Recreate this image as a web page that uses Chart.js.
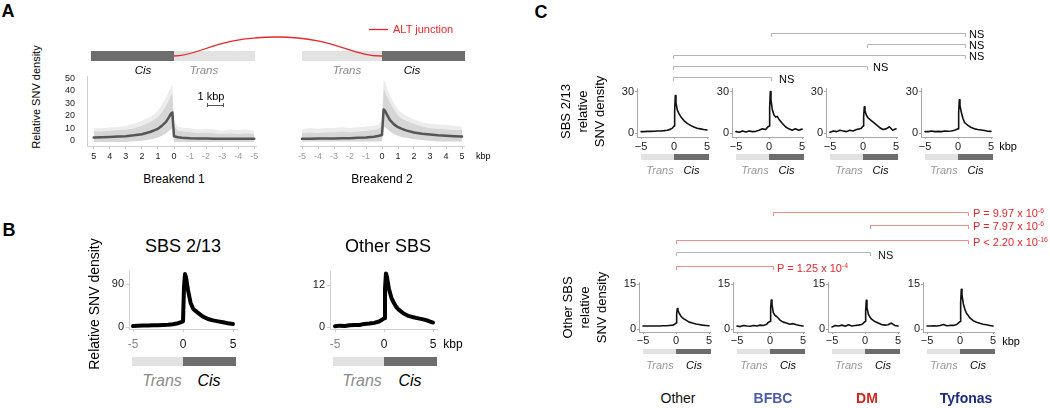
<!DOCTYPE html>
<html>
<head>
<meta charset="utf-8">
<script src="https://cdn.jsdelivr.net/npm/chart.js@4.4.1/dist/chart.umd.min.js"></script>
<style>
  body { margin: 0; width: 1050px; height: 408px; background: #fff; position: relative; overflow: hidden;
         font-family: 'Liberation Sans', Arial, sans-serif; color: #111; }
  canvas { position: absolute; }
  .t { position: absolute; white-space: nowrap; line-height: 1; }
  .r { position: absolute; }
  sup { font-size: 0.62em; vertical-align: 0.55em; line-height: 0; }
</style>
</head>
<body>
<script>
// ---- data ----
// positions relative to the breakpoint, kbp (cis side positive)
const kbp = [-5, -4.5, -4, -3.5, -3, -2.5, -2, -1.5, -1, -0.5, -0.25, 0, 0.1, 0.2, 0.3, 0.5, 0.75, 1, 1.25, 1.5, 2, 2.5, 3, 3.5, 4, 4.5, 5];

// A: breakends, mean line + cloud of individual values (dense band + sparse outliers)
const brk1Line  = [1.5, 1.5, 1.5, 1.5, 1.5, 1.6, 1.7, 1.8, 2, 2.4, 2.8, 3.5, 22.5, 21.5, 19, 15, 12, 9.5, 8.2, 7, 5.2, 4.3, 3.6, 3.3, 3, 2.8, 2.5];
const brk1Upper = [5.5, 6, 5.5, 6, 5.5, 6, 6.5, 6, 7, 7.5, 8, 12, 38, 36, 33, 28, 23, 19, 16.5, 15, 12, 10, 9, 8.5, 8, 7.5, 7.5];
const brk1Outer = [8, 9, 8.5, 9, 8, 9, 9.5, 9, 10, 10.5, 11, 16, 45, 43, 40, 35, 29, 24, 21, 19, 16, 13.5, 12, 11, 10.5, 10, 10];
const brk1Lower = [-1, -1, -1, -1, -1, -1, -1, -1, -1, -1, -1, -1, 10, 9, 8, 6, 4, 2.5, 1.5, 1, 0, -0.5, -1, -1, -1, -1, -1];
const brk2Line  = [0.8, 0.9, 1, 1, 1.1, 1.2, 1.3, 1.5, 1.8, 2.3, 2.8, 3.5, 21.5, 20.5, 18, 14, 11, 9, 7.8, 6.8, 5.3, 4.4, 3.8, 3.3, 3, 2.7, 2.4];
const brk2Upper = [5, 5.5, 5, 5.5, 5.5, 6, 5.5, 6, 6.5, 7, 7.5, 10, 36, 34, 31, 26, 21.5, 17.5, 15, 13.5, 11.5, 9.5, 8.5, 8, 7.5, 7, 7];
const brk2Outer = [7.5, 8.5, 8, 8.5, 8.5, 9, 8.5, 9, 9.5, 10, 10.5, 14, 43, 41, 37, 31, 26, 21.5, 19, 17, 14.5, 12.5, 11.5, 11, 10.5, 10, 9.5];
const brk2Lower = [-1, -1, -1, -1, -1, -1, -1, -1, -1, -1, -1, -1, 9, 9, 8, 6, 4, 3, 2, 1.5, 0.5, 0, -0.5, -1, -1, -1, -1];

// B: signatures
const sbs213   = [2, 2.5, 3, 3, 3.5, 4, 4.5, 5, 6, 8, 10, 12, 85, 112, 105, 78, 52, 39, 34, 30, 22, 17, 14, 12, 10, 8, 6.5];
const otherSbs = [0.2, 0.4, 0.3, 0.5, 0.6, 0.6, 0.9, 1, 1.2, 1.6, 2, 2.5, 11, 15.5, 14.5, 11, 8.5, 7, 5.8, 5, 3.9, 3.2, 2.8, 2.5, 2.2, 1.8, 1.3];

// C: by event type (top = SBS 2/13, bottom = other SBS)
const groups = ['Other', 'BFBC', 'DM', 'Tyfonas'];
const topSeries = [
  [1, 1, 1.2, 1.2, 1.3, 1.4, 1.5, 1.7, 2, 2.8, 3.5, 5, 16, 27, 22, 16.5, 14, 12, 10.5, 9, 7, 5.5, 4.3, 3.5, 3, 2.5, 2.2],
  [1, 0.5, 1.5, 0.8, 1.5, 1, 1.2, 2, 3, 2.5, 4, 5, 18, 30, 24, 17, 13, 11.5, 12, 10, 7, 4.5, 3, 2, 3, 2, 2.8],
  [0.5, 1.5, 1, 2, 1.5, 1, 2, 1.5, 2.5, 3, 3.5, 5, 12, 19, 16, 13, 11, 10, 9, 8, 6, 4, 2.5, 3, 4.5, 2, 3],
  [1, 1, 1.5, 1, 1.2, 1, 1.5, 1.3, 1.5, 2, 2.5, 3, 15, 24, 20, 15, 10.5, 7.5, 6.5, 5.5, 4, 3, 2.5, 2.2, 1.8, 1.3, 1.2]
];
const bottomSeries = [
  [1, 1, 1, 1, 1, 1, 1.1, 1.1, 1.2, 1.3, 1.5, 2, 5, 6.9, 6.2, 5.2, 4.3, 3.7, 3.3, 3, 2.3, 2, 1.7, 1.5, 1.3, 1.2, 1.1],
  [1, 0.8, 1.2, 1, 0.9, 1.2, 1, 1.3, 1.2, 1.6, 2.3, 2.5, 7, 9.7, 8.3, 5.5, 4.6, 4.2, 3.7, 3, 2.3, 2, 1.6, 1.8, 1.4, 1.2, 1],
  [0.7, 1.2, 1, 1.3, 0.9, 1.4, 1, 1.2, 1.3, 1.5, 2, 2.5, 6, 9.6, 7.2, 5, 4, 3.3, 2.9, 2.5, 2, 1.5, 1.3, 1.4, 2, 1.2, 1],
  [1, 1, 1.1, 1, 1.2, 1.5, 1.1, 1.2, 1.2, 1.5, 2, 2.5, 9, 13.3, 11.5, 8.5, 6.5, 5.2, 4.5, 3.7, 2.8, 2.3, 1.9, 1.6, 1.4, 1.2, 1]
];

// tick values / labels
const aXTicks = [-5, -4, -3, -2, -1, 0, 1, 2, 3, 4, 5];
const aXLabels = ['-5', '-4', '-3', '-2', '-1', '0', '1', '2', '3', '4', '5'];
const aYTicks = [0, 10, 20, 30, 40, 50];
const bXTicks = [-5, 0, 5];
const bXLabels = ['-5', '0', '5'];
const cXLabels = ['\u22125', '0', '5'];
const topPvals = ['NS', 'NS', 'NS', 'NS', 'NS'];
const botPvals = ['P = 1.25 x 10<sup>-4</sup>', 'NS', 'P &lt; 2.20 x 10<sup>-16</sup>', 'P = 7.97 x 10<sup>-6</sup>', 'P = 9.97 x 10<sup>-6</sup>'];

// ---- helpers ----
Chart.defaults.font.family = "'Liberation Sans', Arial, sans-serif";
const RED = '#e8262b';
const pts = ys => kbp.map((x, i) => ({ x: x, y: ys[i] }));

function text(str, x, y, o) {
  o = o || {};
  const d = document.createElement('div');
  d.className = 't';
  d.innerHTML = str;
  d.style.fontSize = (o.size || 11) + 'px';
  d.style.color = o.color || '#000';
  if (o.italic) d.style.fontStyle = 'italic';
  if (o.bold) d.style.fontWeight = 'bold';
  if (o.rot) {
    // fixed integer box so the rotated text lands on whole pixels
    const lines = str.split('<br>').length, w = 220, h = lines * o.lh;
    d.style.width = w + 'px'; d.style.height = h + 'px';
    d.style.lineHeight = o.lh + 'px'; d.style.textAlign = 'center';
    d.style.left = (x - w / 2) + 'px'; d.style.top = (y - h / 2) + 'px';
    d.style.transform = 'rotate(-90deg)';
  } else {
    d.style.left = x + 'px';
    d.style.top = y + 'px';
    d.style.transform = 'translate(' + (o.left ? '0' : '-50%') + ',-50%)';
  }
  document.body.appendChild(d);
}

function rect(x1, y1, x2, y2, color) {
  const d = document.createElement('div');
  d.className = 'r';
  d.style.left = x1 + 'px'; d.style.top = y1 + 'px';
  d.style.width = (x2 - x1) + 'px'; d.style.height = (y2 - y1) + 'px';
  d.style.background = color;
  document.body.appendChild(d);
}

// value at pixel p, given two reference (value, pixel) pairs
function valAt(p, v0, p0, v1, p1) { return v0 + (p - p0) * (v1 - v0) / (p1 - p0); }

function plot(box, c) {
  const padL = 10, padT = 8, padR = 16;
  const yW = c.yShow ? 30 : 0, xH = 24;
  const cv = document.createElement('canvas');
  cv.width = box.r - box.l + yW + padL + padR;
  cv.height = box.b - box.t + padT + xH;
  cv.style.left = (box.l - yW - padL) + 'px';
  cv.style.top = (box.t - padT) + 'px';
  document.body.appendChild(cv);

  const xa = valAt(box.l, c.xRef[0], c.xRef[1], c.xRef[2], c.xRef[3]);
  const xb = valAt(box.r, c.xRef[0], c.xRef[1], c.xRef[2], c.xRef[3]);
  const ya = valAt(box.b, c.yRef[0], c.yRef[1], c.yRef[2], c.yRef[3]);
  const yb = valAt(box.t, c.yRef[0], c.yRef[1], c.yRef[2], c.yRef[3]);

  new Chart(cv, {
    type: 'line',
    data: { datasets: c.datasets },
    options: {
      responsive: false,
      animation: false,
      events: [],
      devicePixelRatio: 1,
      layout: { padding: { left: padL, top: padT, right: padR, bottom: 0 } },
      plugins: { legend: { display: false }, tooltip: { enabled: false } },
      elements: { point: { radius: 0 }, line: { tension: 0 } },
      scales: {
        x: {
          type: 'linear', reverse: !!c.reverse,
          min: Math.min(xa, xb), max: Math.max(xa, xb),
          afterBuildTicks: s => { s.ticks = c.xTicks.map(v => ({ value: v })); },
          afterFit: s => { s.height = xH; },
          ticks: {
            autoSkip: false, maxRotation: 0,
            callback: (v, i) => c.xLabels[i],
            color: c.xColor, font: { size: c.xFont }, padding: c.xPad
          },
          grid: { drawOnChartArea: false, tickLength: c.xTl, color: c.axis },
          border: { color: c.axis }
        },
        y: {
          type: 'linear', display: !!c.yShow,
          min: ya, max: yb,
          afterBuildTicks: s => { s.ticks = c.yTicks.map(v => ({ value: v })); },
          afterFit: s => { s.width = yW; },
          ticks: { callback: v => String(v), color: '#222', font: { size: c.yFont }, padding: c.yPad },
          grid: { drawOnChartArea: false, drawTicks: c.yTl > 0, tickLength: c.yTl, color: c.axis },
          border: { color: c.axis }
        }
      }
    }
  });
}

function lineDs(ys, color, w) {
  return { data: pts(ys), borderColor: color, borderWidth: w, pointRadius: 0, fill: false,
           borderCapStyle: 'round', borderJoinStyle: 'round' };
}

// ================= Panel A =================
const aCfg = {
  yRef: [0, 140, 50, 69], xTicks: aXTicks, xLabels: aXLabels, yTicks: aYTicks,
  xColor: ctx => ctx.tick.value < 0 ? '#9a9a9a' : '#222', xFont: 9, xPad: 2, xTl: 3,
  yFont: 9, yPad: 12, yTl: 0, axis: '#cfcfcf'
};
// dense band drawn over a lighter band of sparse outliers
const cloud = (lo, hi, outer) => [
  { data: pts(lo), borderWidth: 0, pointRadius: 0, fill: false },
  { data: pts(hi), borderWidth: 0, pointRadius: 0, fill: '-1', backgroundColor: '#d6d6d6' },
  { data: pts(outer), borderWidth: 0, pointRadius: 0, fill: '-1', backgroundColor: '#ececec' }
];
plot({ l: 87, r: 256, t: 67, b: 146 }, Object.assign({}, aCfg, {
  yShow: true, reverse: true, xRef: [0, 174, 5, 93.7],
  datasets: [lineDs(brk1Line, '#555', 2.5)].concat(cloud(brk1Lower, brk1Upper, brk1Outer))
}));
plot({ l: 300, r: 464, t: 67, b: 146 }, Object.assign({}, aCfg, {
  yShow: false, xRef: [0, 382, 5, 462],
  datasets: [lineDs(brk2Line, '#555', 2.5)].concat(cloud(brk2Lower, brk2Upper, brk2Outer))
}));

// ================= Panel B =================
const bCfg = {
  yShow: true, xTicks: bXTicks, xLabels: bXLabels,
  xColor: ctx => ctx.tick.value < 0 ? '#888' : '#111', xFont: 12, xPad: 5, xTl: 3,
  yFont: 11, yPad: 2, yTl: 3, axis: '#cfcfcf'
};
plot({ l: 129, r: 237, t: 271, b: 329 }, Object.assign({}, bCfg, {
  xRef: [0, 183, 5, 233], yRef: [0, 327, 90, 284], yTicks: [0, 90],
  datasets: [lineDs(sbs213, '#000', 4)]
}));
plot({ l: 330, r: 437, t: 271, b: 329 }, Object.assign({}, bCfg, {
  xRef: [0, 384, 5, 433], yRef: [0, 327, 12, 285], yTicks: [0, 12],
  datasets: [lineDs(otherSbs, '#000', 4)]
}));

// ================= Panel C =================
const topX0 = [674, 769, 863, 958];
const botX0 = [676, 770, 865, 960];
const cCfg = {
  yShow: true, xTicks: bXTicks, xLabels: cXLabels, xColor: '#222', xFont: 11, xTl: 2,
  yFont: 11, yPad: 1, yTl: 2, axis: '#a8a8a8'
};
topX0.forEach((x0, i) => {
  plot({ l: x0 - 37, r: x0 + 34, t: 88, b: 137 }, Object.assign({}, cCfg, {
    xPad: 1, xRef: [0, x0, 5, x0 + 33], yRef: [0, 133, 30, 91.5], yTicks: [0, 30],
    datasets: [lineDs(topSeries[i], '#111', 1.6)]
  }));
});
botX0.forEach((x0, i) => {
  plot({ l: x0 - 37, r: x0 + 34, t: 282, b: 332 }, Object.assign({}, cCfg, {
    xPad: 0, xRef: [0, x0, 5, x0 + 33], yRef: [0, 329, 15, 284.3], yTicks: [0, 15],
    datasets: [lineDs(bottomSeries[i], '#111', 1.6)]
  }));
});

// ================= decorations =================
const DARK = '#6d6d6d', LIGHT = '#e2e2e2', TGREY = '#8c8c8c';

// A
text('A', 8, 11, { size: 18, bold: true });
rect(91, 51, 174, 61, DARK); rect(174, 51, 255, 61, LIGHT);
rect(302, 51, 382, 61, LIGHT); rect(382, 51, 465, 61, DARK);
text('Relative SNV density', 36, 97, { size: 11, rot: true, lh: 14 });
text('Cis', 143, 71, { size: 11.5, italic: true });
text('Trans', 204, 71, { size: 11.5, italic: true, color: TGREY });
text('Trans', 347, 71, { size: 11.5, italic: true, color: TGREY });
text('Cis', 412, 71, { size: 11.5, italic: true });
text('1 kbp', 211, 96, { size: 11 });
text('ALT junction', 393, 29, { size: 11, left: true, color: RED });
text('kbp', 476, 156, { size: 9, left: true });
text('Breakend 1', 174, 179, { size: 12 });
text('Breakend 2', 382, 179, { size: 12 });

// B
text('B', 9, 230, { size: 18, bold: true });
text('Relative SNV density', 94, 304, { size: 14, rot: true, lh: 16 });
text('SBS 2/13', 183, 246, { size: 18 });
text('Other SBS', 388, 246, { size: 18 });
rect(132, 357, 183, 366, LIGHT); rect(183, 357, 236, 366, DARK);
rect(333, 357, 384, 366, LIGHT); rect(384, 357, 437, 366, DARK);
text('Trans', 162, 381, { size: 16, italic: true, color: TGREY });
text('Cis', 209, 381, { size: 16, italic: true });
text('Trans', 362, 381, { size: 16, italic: true, color: TGREY });
text('Cis', 410, 381, { size: 16, italic: true });
text('kbp', 453, 344, { size: 12 });

// C
text('C', 541, 12, { size: 18, bold: true });
text('SBS 2/13<br>relative<br>SNV density', 582, 111, { size: 13, rot: true, lh: 17 });
text('Other SBS<br>relative<br>SNV density', 584, 307, { size: 13, rot: true, lh: 17 });
topX0.forEach(x0 => {
  rect(x0 - 33, 154, x0, 160, LIGHT); rect(x0, 154, x0 + 35, 160, DARK);
  text('Trans', x0 - 14, 169.5, { size: 11, italic: true, color: '#999' });
  text('Cis', x0 + 17.5, 169.5, { size: 11, italic: true });
});
botX0.forEach(x0 => {
  rect(x0 - 33, 349, x0, 354, LIGHT); rect(x0, 349, x0 + 35, 354, DARK);
  text('Trans', x0 - 16, 364.5, { size: 11, italic: true, color: '#999' });
  text('Cis', x0 + 18, 364.5, { size: 11, italic: true });
});
text('kbp', 1008, 146, { size: 11 });
text('kbp', 1011, 341, { size: 11 });
const grpColors = ['#111', '#4a5ca8', '#d0281f', '#1d2b80'];
const grpX = [678, 773, 867, 966];
groups.forEach((g, i) => text(g, grpX[i], 398, { size: 14, bold: i > 0, color: grpColors[i] }));

// brackets (x1, x2, y, label x, label y)
const topBr = [[673, 771, 77, 779, 78.5], [673, 867, 66, 873, 67], [673, 965, 55, 969, 56], [867, 965, 44, 969, 44.5], [771, 965, 33, 969, 33.5]];
const botBr = [[676, 773, 266, 777, 268], [676, 870, 252, 878, 255], [676, 968, 240, 973, 241.5], [870, 968, 225, 973, 226], [773, 968, 212, 973, 213]];

let svg = '<svg width="1050" height="408" style="position:absolute;left:0;top:0">';
const br = (x1, x2, y, col) => '<path d="M' + (x1 + 0.5) + ' ' + (y + 4) + 'V' + (y + 0.5) + 'H' + (x2 + 0.5) + 'V' + (y + 4) + '" stroke="' + col + '" fill="none" stroke-width="1"/>';
topBr.forEach((b, i) => { svg += br(b[0], b[1], b[2], '#b5b5b5'); text(topPvals[i], b[3], b[4], { size: 11, left: true }); });
botBr.forEach((b, i) => {
  const ns = botPvals[i] === 'NS';
  svg += br(b[0], b[1], b[2], ns ? '#b5b5b5' : '#f08c8c');
  text(botPvals[i], b[3], b[4], { size: 11, left: true, color: ns ? '#111' : RED });
});
// ALT junction curve + legend, 1 kbp scale bar
svg += '<path d="M174 56 C 200 56 215 37 277 37 C 335 37 350 56 382 56" stroke="' + RED + '" stroke-width="1.3" fill="none"/>';
svg += '<line x1="369" y1="29.5" x2="388" y2="29.5" stroke="' + RED + '" stroke-width="1.3"/>';
svg += '<path d="M207.5 103V107M207.5 105.5H223.5M223.5 103V107" stroke="#555" stroke-width="1" fill="none"/>';
svg += '</svg>';
document.body.insertAdjacentHTML('beforeend', svg);
</script>
</body>
</html>
